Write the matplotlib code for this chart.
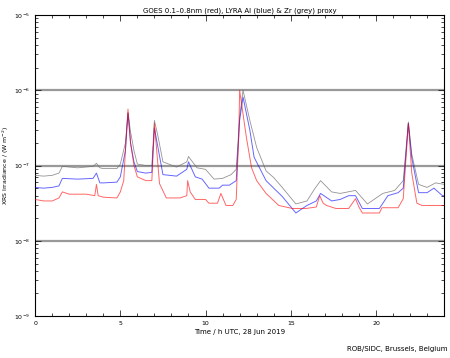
import numpy as np
import matplotlib.pyplot as plt

# hours (UTC) and log10 irradiance
goes_h = [0, 0.5, 1.0, 1.4, 1.6, 2.0, 3.0, 3.5, 3.6, 3.7, 4.0, 4.8, 5.0, 5.2, 5.35, 5.45, 5.6, 5.8, 6.0,
          6.5, 6.85, 7.0, 7.3, 7.7, 8.5, 8.9, 8.95, 9.1, 9.4, 10.0, 10.2, 10.7, 10.9, 11.2, 11.6, 11.8,
          11.95, 12.0, 12.4, 12.7, 13.0, 13.55, 14.3, 15.1, 15.9, 16.5, 16.7, 16.9, 17.1, 17.65, 18.4,
          18.8, 19.0, 19.2, 20.2, 20.35, 21.3, 21.6, 21.9, 22.1, 22.4, 22.7, 24.0]
goes_lg = [-7.45, -7.47, -7.47, -7.43, -7.35, -7.38, -7.38, -7.40, -7.25, -7.40, -7.42, -7.43, -7.35, -7.2, -6.6, -6.25, -6.7, -7.0, -7.15,
           -7.2, -7.2, -6.44, -7.24, -7.43, -7.43, -7.40, -7.2, -7.35, -7.45, -7.45, -7.5, -7.5, -7.37, -7.53, -7.53, -7.45,
           -6.6, -6.0, -6.63, -7.03, -7.2, -7.37, -7.53, -7.57, -7.57, -7.55, -7.4, -7.5, -7.53, -7.57, -7.57,
           -7.44, -7.55, -7.63, -7.63, -7.56, -7.56, -7.44, -6.44, -7.1, -7.5, -7.53, -7.53]

al_h = [0, 0.5, 1.0, 1.4, 1.6, 2.5, 3.4, 3.6, 3.8, 4.0, 4.8, 5.0, 5.3, 5.45, 5.6, 5.8, 6.0, 6.5, 6.85,
        7.0, 7.2, 7.5, 8.3, 8.9, 9.0, 9.4, 9.8, 10.2, 10.8, 11.0, 11.4, 11.8, 12.0, 12.2, 12.6, 12.85,
        13.55, 14.0, 14.5, 15.3, 15.95, 16.5, 16.75, 17.4, 17.9, 18.4, 18.8, 19.2, 20.2, 20.7, 21.3,
        21.6, 21.9, 22.1, 22.5, 23.0, 23.4, 23.9, 24.0]
al_lg = [-7.29, -7.3, -7.29, -7.27, -7.17, -7.18, -7.17, -7.1, -7.23, -7.23, -7.22, -7.15, -6.8, -6.3, -6.7, -6.95, -7.08, -7.1, -7.09,
         -6.5, -6.75, -7.12, -7.14, -7.05, -6.95, -7.15, -7.18, -7.3, -7.3, -7.26, -7.26, -7.2, -6.4, -6.09, -6.53, -6.89,
         -7.2, -7.3, -7.41, -7.63, -7.53, -7.47, -7.37, -7.47, -7.45, -7.4, -7.4, -7.57, -7.57, -7.4, -7.36,
         -7.3, -6.44, -6.9, -7.36, -7.36, -7.3, -7.4, -7.4]

zr_h = [0, 0.5, 1.0, 1.4, 1.6, 2.5, 3.4, 3.6, 3.8, 4.0, 4.8, 5.0, 5.3, 5.45, 5.6, 5.8, 6.0, 6.5, 6.85,
        7.0, 7.2, 7.5, 8.3, 8.9, 9.0, 9.5, 10.0, 10.5, 11.0, 11.5, 11.8, 12.0, 12.2, 12.6, 13.0,
        13.55, 14.0, 14.5, 15.3, 15.95, 16.4, 16.75, 17.4, 17.9, 18.8, 19.5, 20.4, 21.1, 21.6, 21.9,
        22.1, 22.5, 23.0, 23.5, 24.0]
zr_lg = [-7.13, -7.14, -7.13, -7.1, -7.01, -7.03, -7.01, -6.97, -7.03, -7.04, -7.04, -6.98, -6.7, -6.3, -6.55, -6.8, -6.98, -7.0, -7.0,
         -6.4, -6.6, -6.95, -7.02, -6.95, -6.88, -7.03, -7.05, -7.18, -7.17, -7.12, -7.05, -6.35, -6.0, -6.4, -6.76,
         -7.07, -7.16, -7.29, -7.51, -7.47, -7.31, -7.2, -7.35, -7.37, -7.33, -7.51, -7.37, -7.33, -7.2, -6.42,
         -6.85, -7.25, -7.29, -7.23, -7.25]

goes = 10 ** np.array(goes_lg)
al = 10 ** np.array(al_lg)
zr = 10 ** np.array(zr_lg)

fig = plt.figure(figsize=(4.5, 3.58), dpi=100)
ax = fig.add_axes([0.078, 0.117, 0.909, 0.841])

for lev in [1e-8, 1e-7, 1e-6]:
    ax.axhline(lev, color='#999999', lw=1.6, zorder=1)

ax.plot(zr_h, zr, color='#666666', lw=0.6, alpha=0.7, zorder=3)
ax.plot(al_h, al, color='blue', lw=0.7, alpha=0.6, zorder=4)
ax.plot(goes_h, goes, color='red', lw=0.7, alpha=0.6, zorder=5)

ax.set_yscale('log')
ax.set_ylim(1e-9, 1e-5)
ax.set_xlim(0, 24)
ax.set_xticks([0, 5, 10, 15, 20])
ax.set_xticks(np.arange(0, 25, 1), minor=True)
ax.tick_params(which='both', direction='in', top=True, right=True, labelsize=4.5, width=0.5)
ax.tick_params(which='major', length=4)
ax.tick_params(which='minor', length=2)
for s in ax.spines.values():
    s.set_linewidth(0.8)

ax.set_title('GOES 0.1\u20130.8nm (red), LYRA Al (blue) & Zr (grey) proxy', fontsize=5, pad=2)
ax.set_xlabel('Time / h UTC, 28 Jun 2019', fontsize=5, labelpad=2)
ax.set_ylabel('XRS Irradiance / (W m$^{-2}$)', fontsize=4.5, labelpad=2)
fig.text(0.772, 0.025, 'ROB/SIDC, Brussels, Belgium', fontsize=5, va='center')

fig.savefig('out.png', dpi=100)
